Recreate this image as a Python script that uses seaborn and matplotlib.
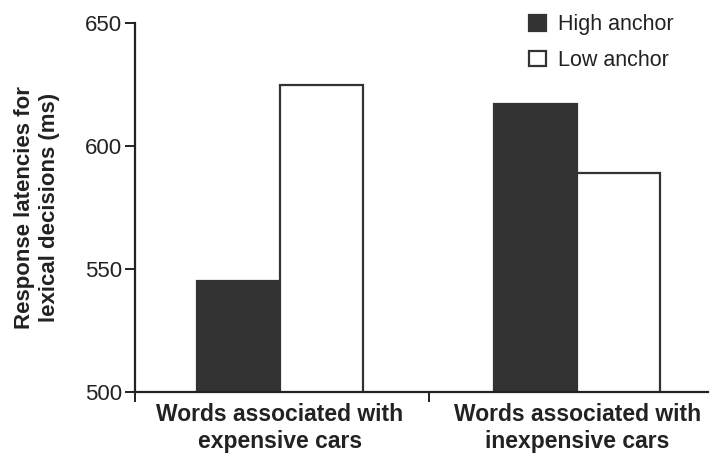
import matplotlib
matplotlib.use("Agg")
import matplotlib.pyplot as plt
import seaborn as sns
import pandas as pd

categories = ["Words associated with\nexpensive cars", "Words associated with\ninexpensive cars"]
anchors = ["High anchor", "Low anchor"]
high_vals = [545, 617]
low_vals = [625, 589]
yticks = [500, 550, 600, 650]

df = pd.DataFrame({
    "category": categories * 2,
    "anchor": [anchors[0]] * 2 + [anchors[1]] * 2,
    "value": high_vals + low_vals,
})

sns.set_style("white")
plt.rcParams["font.family"] = ["Liberation Sans", "DejaVu Sans"]

fig = plt.figure(figsize=(7.1, 4.54), dpi=100)
ax = fig.add_axes([135 / 710, 1 - 392 / 454, (708 - 135) / 710, (392 - 23) / 454])

dark = "#333333"
sns.barplot(data=df, x="category", y="value", hue="anchor", hue_order=anchors,
            order=categories, palette=[dark, "white"], width=0.56,
            edgecolor=dark, linewidth=1.6, ax=ax, legend=True)

ax.set_ylim(500, 650)
ax.set_xlim(-0.488, 1.44)
ax.set_yticks(yticks)
ax.set_yticklabels([str(v) for v in yticks], fontsize=16, color="#222222")
ax.set_xticks([-0.488, 0.5])
ax.set_xticklabels(["", ""])
ax.set_xticks([0, 1], minor=True)
ax.set_xticklabels(categories, minor=True, fontsize=16.5, fontweight="bold", color="#222222",
                   linespacing=1.2)
ax.tick_params(axis="x", which="minor", bottom=True, length=0, pad=8)
ax.tick_params(axis="x", which="major", bottom=True, length=7, width=1.4, direction="out", color="#222222")
ax.tick_params(axis="y", left=True, length=7, width=1.4, direction="out", color="#222222", pad=2)
ax.set_xlabel("")
ax.set_ylabel("Response latencies for\nlexical decisions (ms)", fontsize=16, fontweight="bold",
              color="#222222", labelpad=18, linespacing=1.3)

for side in ["top", "right"]:
    ax.spines[side].set_visible(False)
for side in ["left", "bottom"]:
    ax.spines[side].set_linewidth(1.6)
    ax.spines[side].set_color("#222222")

handles, labels = ax.get_legend_handles_labels()
ax.legend(handles, labels, loc="upper left", bbox_to_anchor=(510 / 710, 1 + 5 / 454),
          bbox_transform=fig.transFigure, frameon=False, fontsize=15.5,
          handlelength=0.75, handleheight=0.75, handletextpad=0.6, labelspacing=0.68,
          labelcolor="#222222")

fig.savefig("out.png", dpi=100, facecolor="white")
